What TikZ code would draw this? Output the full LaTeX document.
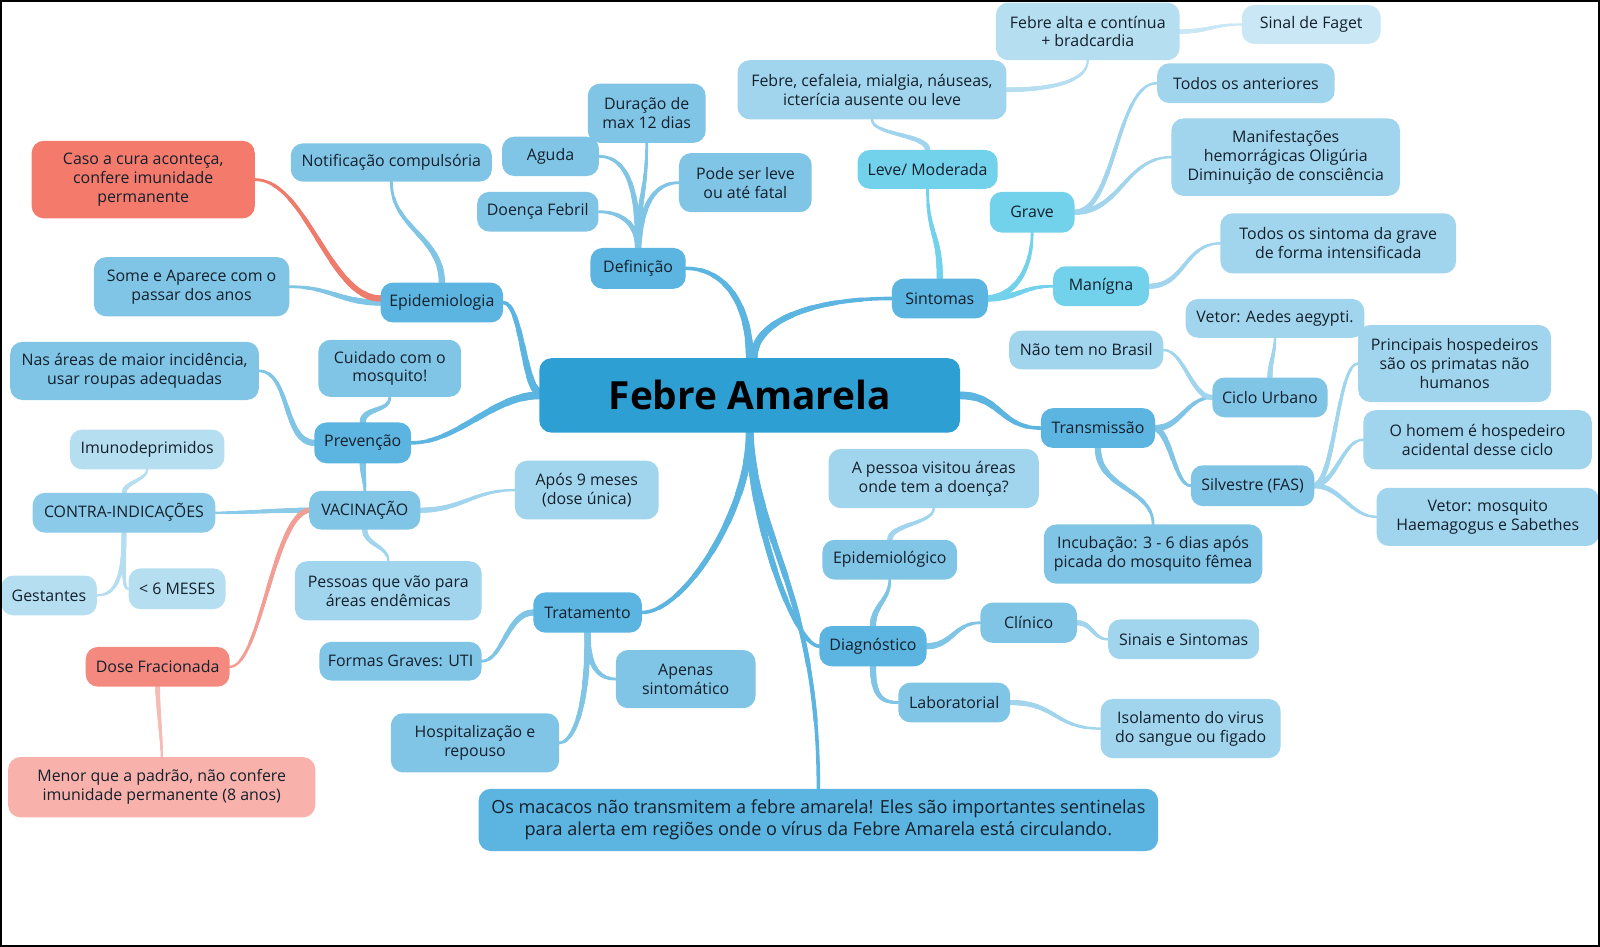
\documentclass[tikz,border=0pt]{standalone}
\usepackage{fontspec}
\setmainfont{Open Sans}
\usetikzlibrary{calc}
\pgfdeclarelayer{bg}
\pgfsetlayers{bg,main}
\definecolor{txt}{HTML}{14202C}
\definecolor{c0}{HTML}{2D9FD3}
\definecolor{c1}{HTML}{5BB5E0}
\definecolor{c2}{HTML}{80C5E6}
\definecolor{c2b}{HTML}{8BCAE8}
\definecolor{c3}{HTML}{A1D5ED}
\definecolor{c4}{HTML}{B6DEF1}
\definecolor{c5}{HTML}{C9E7F5}
\definecolor{cya}{HTML}{72D2EC}
\definecolor{red1}{HTML}{F47A6C}
\definecolor{red2}{HTML}{F3897F}
\definecolor{red3}{HTML}{F8B2AB}
\definecolor{lr1}{HTML}{EF7B6D}
\definecolor{lr2}{HTML}{F29E95}
\definecolor{lr3}{HTML}{F7BBB5}
\tikzset{
 mm/.style={rounded corners=12pt, inner sep=0pt, align=center, text=txt, font=\fontsize{15.6}{18.5}\selectfont},
 l1/.style={mm, fill=c1},
 l2/.style={mm, fill=c2},
 l2b/.style={mm, fill=c2b},
 l3/.style={mm, fill=c3},
 l4/.style={mm, fill=c4},
 l5/.style={mm, fill=c5},
 cy/.style={mm, fill=cya},
 rd1/.style={mm, fill=red1},
 rd2/.style={mm, fill=red2},
 rd3/.style={mm, fill=red3},
 cent/.style={mm, fill=c0, text=black, font=\fontsize{38}{44}\selectfont\bfseries},
 bigbox/.style={mm, fill=c1, font=\fontsize{17.7}{21.5}\selectfont},
 conn/.style={line cap=round},
}
\newcommand\mmn[7]{\node[#6, minimum width={(#4)-(#2)}, minimum height={(#5)-(#3)}] (#1) at ({((#2)+(#4))/2},{((#3)+(#5))/2}) {#7};}
% tapered curved connector: colour, start, ctrl offset from start, ctrl offset from end, end, start width, end width
\newcommand\tpr[7]{%
 \path (#2) coordinate (q0) ($(#2)+(#3)$) coordinate (q1) ($(#5)+(#4)$) coordinate (q2) (#5) coordinate (q3);
 \foreach \tpT/\tpK in {1/0,0.875/1,0.75/2,0.625/3,0.5/4,0.375/5,0.25/6,0.125/7}{
   \path ($(q0)!\tpT!(q1)$) coordinate (ua) ($(q1)!\tpT!(q2)$) coordinate (ub) ($(q2)!\tpT!(q3)$) coordinate (uc);
   \path ($(ua)!\tpT!(ub)$) coordinate (ud) ($(ub)!\tpT!(uc)$) coordinate (ue);
   \path ($(ud)!\tpT!(ue)$) coordinate (uf);
   \draw[conn, draw=#1, line width={#7+(#6-#7)*\tpK/7}] (q0) .. controls (ua) and (ud) .. (uf);
 }
}
\begin{document}
\begin{tikzpicture}[x=1pt,y=-1pt]
\useasboundingbox (0,0) rectangle (1568,928);
% central and main
\mmn{C}{528.5}{351}{940.8}{424}{cent}{Febre Amarela}
\mmn{mac}{469}{773}{1135}{834}{bigbox}{Os macacos não transmitem a febre amarela! Eles são importantes sentinelas\\para alerta em regiões onde o vírus da Febre Amarela está circulando.}
\mmn{def}{578.6}{243}{672}{283}{l1}{Definição}
\mmn{epid}{373}{277}{493}{316}{l1}{Epidemiologia}
\mmn{prev}{308}{414}{403}{454}{l1}{Prevenção}
\mmn{trat}{522.6}{580.5}{629}{620}{l1}{Tratamento}
\mmn{diag}{803}{613.5}{908}{653}{l1}{Diagnóstico}
\mmn{sint}{874}{273}{968}{312}{l1}{Sintomas}
\mmn{trans}{1020}{400}{1132}{439}{l1}{Transmissão}
% Definicao
\mmn{dur}{576}{82}{691.6}{140}{l2}{Duração de\\max 12 dias}
\mmn{agu}{492}{134}{587}{172.5}{l2}{Aguda}
\mmn{pod}{665.4}{150}{795.5}{208}{l2}{Pode ser leve\\ou até fatal}
\mmn{feb}{467.6}{188}{586.5}{227}{l2}{Doença Febril}
% Epidemiologia
\mmn{notif}{285}{140.5}{482}{178}{l2}{Notificação compulsória}
\mmn{some}{92}{252}{283.5}{310}{l2}{Some e Aparece com o\\passar dos anos}
\mmn{caso}{31}{138}{249.7}{214}{rd1}{Caso a cura aconteça,\\confere imunidade\\permanente}
% Prevencao
\mmn{nas}{10}{335}{253.8}{392}{l2}{Nas áreas de maior incidência,\\usar roupas adequadas}
\mmn{cuid}{312}{333}{452}{389}{l2}{Cuidado com o\\mosquito!}
\mmn{vac}{303}{481}{412}{519}{l2}{VACINAÇÃO}
\mmn{ci}{32}{483}{211}{522}{l2b}{CONTRA-INDICAÇÕES}
\mmn{apos}{504.6}{451.5}{645.5}{509}{l3}{Após 9 meses\\(dose única)}
\mmn{pes}{289}{550}{472}{608}{l3}{Pessoas que vão para\\áreas endêmicas}
\mmn{dose}{84}{634}{225}{673}{rd2}{Dose Fracionada}
\mmn{imu}{68.5}{421}{220}{460}{l4}{Imunodeprimidos}
\mmn{ges}{1}{564}{95}{603}{l4}{Gestantes}
\mmn{mes}{126}{557}{221}{597}{l4}{< 6 MESES}
\mmn{menor}{8}{742}{309}{801}{rd3}{Menor que a padrão, não confere\\imunidade permanente (8 anos)}
% Tratamento
\mmn{formas}{313}{629}{472}{667}{l2}{Formas Graves: UTI}
\mmn{apen}{603.5}{637}{740.4}{694}{l2}{Apenas\\sintomático}
\mmn{hosp}{383}{699}{548}{757}{l2}{Hospitalização e\\repouso}
% Diagnostico
\mmn{epil}{806}{529}{938}{568}{l2}{Epidemiológico}
\mmn{pessoa}{812}{440}{1018}{498}{l3}{A pessoa visitou áreas\\onde tem a doença?}
\mmn{cli}{960.7}{590.6}{1055.5}{630}{l2}{Clínico}
\mmn{sinais}{1086}{607}{1234}{646}{l3}{Sinais e Sintomas}
\mmn{lab}{880.3}{669}{990}{708}{l2}{Laboratorial}
\mmn{iso}{1078.6}{685}{1255}{743}{l3}{Isolamento do virus\\do sangue ou figado}
% Sintomas
\mmn{leve}{840.4}{147}{977.6}{185}{cy}{Leve/ Moderada}
\mmn{grave}{970}{188}{1053}{228}{cy}{Grave}
\mmn{manig}{1032}{261}{1126}{300}{cy}{Manígna}
\mmn{fcef}{722.8}{59}{986.3}{117}{l3}{Febre, cefaleia, mialgia, náuseas,\\icterícia ausente ou leve}
\mmn{falta}{976}{2.6}{1156}{59}{l4}{Febre alta e contínua\\+ bradcardia}
\mmn{faget}{1217}{5}{1353}{43}{l5}{Sinal de Faget}
\mmn{tant}{1134}{62}{1308}{101}{l3}{Todos os anteriores}
\mmn{manif}{1148}{116}{1372}{192}{l3}{Manifestações\\hemorrágicas Oligúria\\Diminuição de consciência}
\mmn{tsint}{1196}{209}{1427}{268}{l3}{Todos os sintoma da grave\\de forma intensificada}
% Transmissao
\mmn{cu}{1188}{370}{1301}{409}{l2}{Ciclo Urbano}
\mmn{sil}{1167}{456}{1288}{496}{l2}{Silvestre (FAS)}
\mmn{inc}{1023}{514}{1237}{572}{l2}{Incubação: 3 - 6 dias após\\picada do mosquito fêmea}
\mmn{nao}{989}{324}{1140}{362}{l3}{Não tem no Brasil}
\mmn{vaed}{1162}{293}{1337}{331}{l3}{Vetor: Aedes aegypti.}
\mmn{princ}{1331}{318.5}{1520}{394}{l3}{Principais hospedeiros\\são os primatas não\\humanos}
\mmn{homem}{1336}{402}{1560}{460}{l3}{O homem é hospedeiro\\acidental desse ciclo}
\mmn{vmos}{1349}{478}{1567}{535}{l3}{Vetor: mosquito\\Haemagogus e Sabethes}

\begin{pgfonlayer}{bg}
\fill[white] (0,0) rectangle (1568,928);
% central branches
\tpr{c1}{C.north}{0,-50}{40,0}{def.east}{7.5}{3.5}
\tpr{c1}{[xshift=4pt]C.north}{0,-35}{-80,0}{sint.west}{7.5}{3.5}
\tpr{c1}{[yshift=3pt]C.west}{-15,-5}{18,0}{epid.east}{7.5}{3.5}
\tpr{c1}{C.west}{-45,0}{45,0}{prev.east}{7.5}{3.5}
\tpr{c1}{C.south}{0,76}{41,0}{trat.east}{7.5}{3.5}
\tpr{c1}{C.south}{0,80}{-25,0}{diag.west}{7.5}{3.5}
\tpr{c1}{C.south}{5,106}{0,-193}{mac.north}{7.5}{3.5}
\tpr{c1}{C.east}{40,0}{-40,0}{trans.west}{7.5}{3.5}
% definicao
\tpr{c2}{def.north}{0,-50}{0,50}{dur.south}{6}{2.8}
\tpr{c2}{def.north}{0,-50}{30,0}{agu.east}{6}{2.8}
\tpr{c2}{def.north}{0,-20}{25,0}{feb.east}{6}{2.8}
\tpr{c2}{def.north}{3,-40}{-25,0}{pod.west}{6}{2.8}
% epidemiologia
\tpr{c2}{epid.north}{0,-45}{0,45}{notif.south}{6}{2.8}
\tpr{c2}{epid.west}{-40,0}{40,0}{some.east}{6}{2.8}
\tpr{lr1}{[yshift=4pt]epid.west}{-50,0}{50,0}{caso.east}{6}{2.8}
% prevencao
\tpr{c2}{prev.west}{-30,0}{30,0}{nas.east}{6}{2.8}
\tpr{c2}{prev.north}{0,-15}{0,15}{cuid.south}{6}{2.8}
\tpr{c2}{prev.south}{0,10}{0,-10}{vac.north}{6}{2.8}
% vacinacao
\tpr{c2b}{vac.west}{-30,0}{30,0}{ci.east}{5}{2.4}
\tpr{c3}{vac.east}{40,0}{-40,0}{apos.west}{5}{2.4}
\tpr{c3}{vac.south}{0,15}{0,-15}{pes.north}{5}{2.4}
\tpr{lr2}{vac.west}{-35,5}{30,0}{dose.east}{5}{2.4}
\tpr{c4}{ci.north}{0,-10}{0,10}{imu.south}{4.5}{2.2}
\tpr{c4}{ci.south}{0,50}{15,0}{ges.east}{4.5}{2.2}
\tpr{c4}{ci.south}{0,45}{-5,0}{mes.west}{4.5}{2.2}
\tpr{lr3}{dose.south}{0,20}{0,-20}{menor.north}{4.5}{2.2}
% tratamento
\tpr{c2}{trat.west}{-25,0}{20,0}{formas.east}{6}{2.8}
\tpr{c2}{trat.south}{0,35}{-15,0}{apen.west}{6}{2.8}
\tpr{c2}{trat.south}{0,80}{12,0}{hosp.east}{6}{2.8}
% diagnostico
\tpr{c2}{diag.north}{0,-20}{0,20}{epil.south}{6}{2.8}
\tpr{c2}{diag.east}{25,0}{-25,0}{cli.west}{6}{2.8}
\tpr{c2}{diag.south}{0,30}{-15,0}{lab.west}{6}{2.8}
\tpr{c3}{epil.north}{0,-15}{0,15}{pessoa.south}{5}{2.4}
\tpr{c3}{cli.east}{15,0}{-15,0}{sinais.west}{5}{2.4}
\tpr{c3}{lab.east}{45,0}{-45,0}{iso.west}{5}{2.4}
% sintomas
\tpr{cya}{sint.north}{0,-45}{0,45}{leve.south}{6}{2.8}
\tpr{cya}{sint.east}{30,-3}{0,30}{grave.south}{6}{2.8}
\tpr{cya}{sint.east}{30,0}{-30,0}{manig.west}{6}{2.8}
\tpr{c3}{leve.north}{0,-15}{0,15}{fcef.south}{5}{2.4}
\tpr{c4}{fcef.east}{45,0}{0,20}{falta.south}{4.5}{2.2}
\tpr{c5}{falta.east}{30,0}{-30,0}{faget.west}{4.5}{2.2}
\tpr{c3}{grave.east}{40,0}{-40,0}{tant.west}{5}{2.4}
\tpr{c3}{grave.east}{45,0}{-45,0}{manif.west}{5}{2.4}
\tpr{c3}{manig.east}{35,0}{-35,0}{tsint.west}{5}{2.4}
% transmissao
\tpr{c2}{trans.east}{25,0}{-25,0}{cu.west}{6}{2.8}
\tpr{c2}{trans.east}{15,5}{-15,0}{sil.west}{6}{2.8}
\tpr{c2}{trans.south}{0,40}{0,-35}{inc.north}{6}{2.8}
\tpr{c3}{cu.west}{-20,0}{20,0}{nao.east}{5}{2.4}
\tpr{c3}{cu.north}{0,-15}{0,15}{vaed.south}{5}{2.4}
\tpr{c3}{sil.east}{20,-5}{-20,0}{princ.west}{5}{2.4}
\tpr{c3}{sil.east}{22,-3}{-20,0}{homem.west}{5}{2.4}
\tpr{c3}{sil.east}{25,0}{-25,0}{vmos.west}{5}{2.4}
\end{pgfonlayer}
\draw[line width=1.5pt, black] (0.75,0.75) rectangle (1567.25,927.25);
\end{tikzpicture}
\end{document}
